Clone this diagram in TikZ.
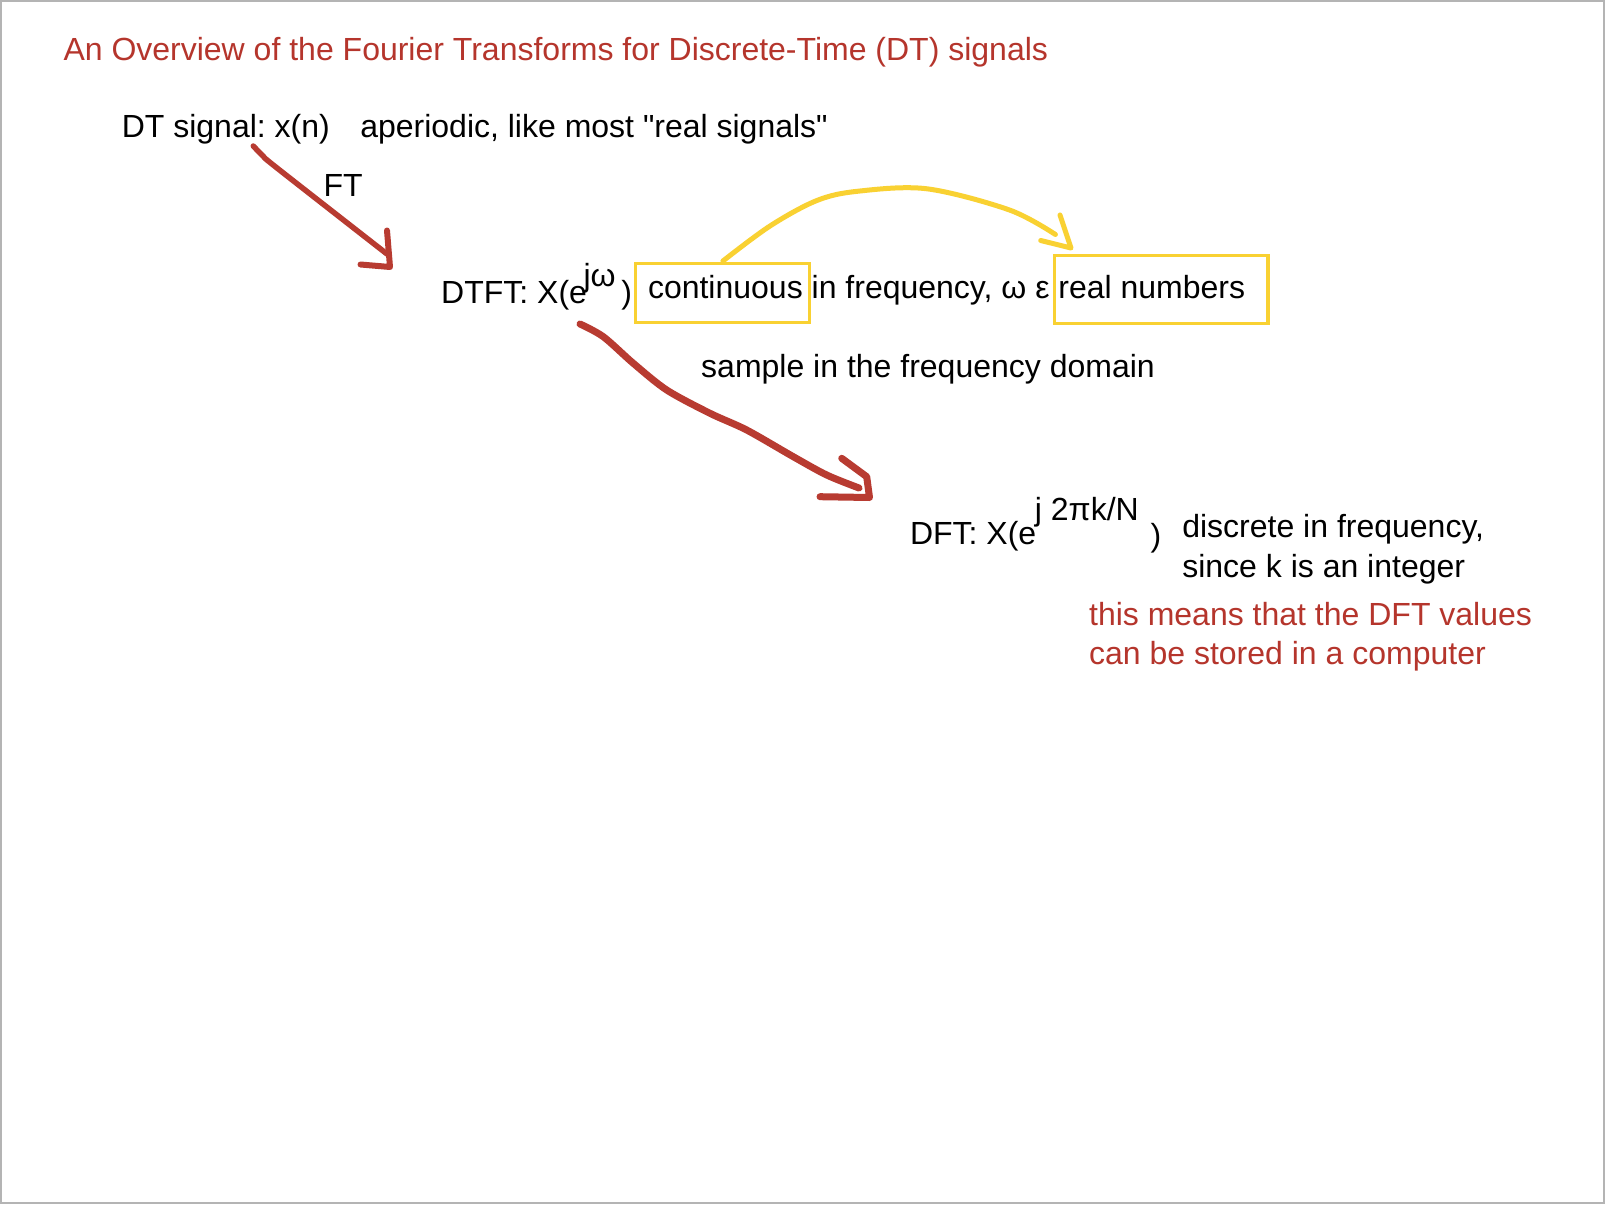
\documentclass[tikz,border=0pt]{standalone}
\usepackage{fontspec}
\setmainfont{Liberation Sans}[Ligatures=TeXOff]
\definecolor{tred}{HTML}{B5352C}
\definecolor{ared}{HTML}{B83B31}
\definecolor{ylw}{HTML}{F9D132}
\definecolor{framegray}{HTML}{B4B4B4}
\begin{document}
\begin{tikzpicture}[x=1pt,y=-1pt,
  txt/.style={anchor=base west, inner sep=0pt, outer sep=0pt, font=\fontsize{32}{38}\selectfont},
  redtxt/.style={txt, text=tred},
  ybox/.style={draw=ylw, line width=3.5pt},
  yarrow/.style={draw=ylw, line width=5pt, line cap=round, line join=round},
  rarrow/.style={draw=ared, line width=7pt, line cap=round, line join=round}]
\useasboundingbox (0,0) rectangle (1605,1204);
\fill[white] (0,0) rectangle (1605,1204);
\draw[framegray, line width=2.5pt] (1,1) rectangle (1604,1203);

% texts
\node[redtxt] (title) at (63.5,61) {An Overview of the Fourier Transforms for Discrete-Time (DT) signals};
\node[txt] (dt) at (121.8,137) {DT signal:\hspace{-3pt} x(n)};
\node[txt] (aper) at (360.3,137) {aperiodic, like most "real signals"};
\node[txt] (ft) at (323.5,196.7) {FT};
\node[txt] (dtft) at (441.2,303) {DTFT: X(e};
\node[txt] (jw) at (583.5,286) {jω};
\node[txt] (dtftclose) at (621.3,303) {)};
\node[txt] (cont) at (648,298.5) {continuous};
\node[txt] (infreq) at (811.7,298.5) {in frequency, ω ε};
\node[txt] (real) at (1058.4,298.5) {real numbers};
\node[txt] (sample) at (701.2,377) {sample in the frequency domain};
\node[txt] (dft) at (910,544) {DFT: X(e};
\node[txt] (jk) at (1034.9,520) {j 2πk/N};
\node[txt] (dftclose) at (1150.5,546) {)};
\node[txt] (disc) at (1182.3,537.5) {discrete in frequency,};
\node[txt] (since) at (1182.3,577.5) {since k is an integer};
\node[redtxt] (means) at (1089.1,625) {this means that the DFT values};
\node[redtxt] (stored) at (1089.1,664.5) {can be stored in a computer};

% yellow boxes
\draw[ybox] (635.6,263.5) rectangle (809.5,322.5);
\draw[ybox] (1054.5,255.5) rectangle (1268,323.5);

% yellow arrow
\coordinate (ys) at (722.9,261);
\coordinate (ye) at (1071,248);
\draw[yarrow] plot[smooth, tension=0.55] coordinates {(ys) (770,226) (816.9,200.5) (858.2,191.2) (927,188.8) (1009.5,210) (1055.4,234.5)};
\draw[yarrow] (1060,215) -- (ye) -- (1040.7,240.5);

% red arrow 1 (FT)
\coordinate (r1s) at (253.3,146);
\coordinate (r1e) at (390,267);
\draw[rarrow, line width=5.5pt] plot[smooth, tension=0.5] coordinates {(r1s) (263,156) (277,168) (387,254)};
\draw[rarrow, line width=6pt] (387,230.5) -- (r1e) -- (360.5,264.5);

% red arrow 2 (sample)
\coordinate (r2s) at (580,324);
\coordinate (r2e) at (869.5,497.5);
\draw[rarrow] plot[smooth, tension=0.5] coordinates {(r2s) (603.3,336.7) (633.3,363.3) (666.7,390) (710,413.3) (746.7,430) (793.3,456.7) (826.7,475) (859,488)};
\draw[rarrow] (841.7,458.3) -- (866.7,476.7) -- (r2e) -- (820,496.7);
\end{tikzpicture}
\end{document}
